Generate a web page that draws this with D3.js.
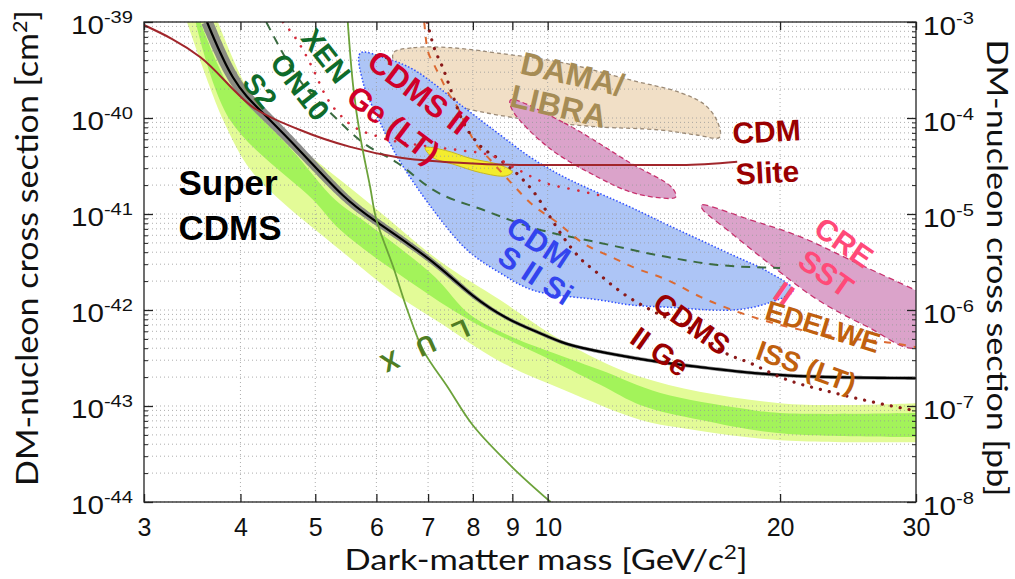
<!DOCTYPE html>
<html>
<head>
<meta charset="utf-8">
<script src="https://cdn.jsdelivr.net/npm/d3@7"></script>
<style>
  body { margin: 0; background: #fff; }
  svg { display: block; }
</style>
</head>
<body>
<div id="chart"></div>
<script>
// tick values
var massTicks = [3, 4, 5, 6, 7, 8, 9, 10, 20, 30];
var sigmaDecades = [1e-44, 1e-43, 1e-42, 1e-41, 1e-40, 1e-39];
var cmExponents = ["-44", "-43", "-42", "-41", "-40", "-39"];
var pbExponents = ["-8", "-7", "-6", "-5", "-4", "-3"];

// [mass GeV, cross section cm^2]
var superCdms = [[3.62,1.0e-39],[3.91,2.3e-40],[4.24,1.21e-40],[4.78,4.6e-41],[5.47,1.4e-41],[5.95,8.7e-42],[6.58,5.0e-42],[7.26,2.8e-42],[8.0,1.36e-42],[8.87,7.9e-43],[9.79,5.75e-43],[10.5,4.4e-43],[11.7,3.65e-43],[14.1,2.8e-43],[15.8,2.55e-43],[20,2.0e-43],[30,1.95e-43]];

var outerTop = [[3.74,1.0e-39],[4.31,9.5e-41],[5.0,3.65e-41],[5.98,1.15e-41],[7.26,3.2e-42],[8.68,1.27e-42],[10.4,4.9e-43],[13.2,2.0e-43],[20,1.07e-43],[30,1.07e-43]];
var outerBottom = [[3.41,1.0e-39],[3.80,9.5e-41],[4.12,2.9e-41],[4.50,1.4e-41],[5.39,4.2e-42],[6.25,1.6e-42],[7.26,7.3e-43],[8.61,3.0e-43],[10.5,1.47e-43],[13.2,7.15e-44],[14.9,5.9e-44],[20,4.4e-44],[30,4.2e-44]];
var innerTop = [[3.55,1.0e-39],[3.85,2.3e-40],[4.15,1.21e-40],[4.67,4.6e-41],[5.31,1.4e-41],[5.8,8.3e-42],[6.44,4.4e-42],[7.15,2.2e-42],[7.94,8.9e-43],[8.87,5.5e-43],[9.79,4.0e-43],[11.7,2.37e-43],[14.0,1.37e-43],[17.8,9.5e-44],[20,8.45e-44],[30,8.45e-44]];
var innerBottom = [[3.50,1.0e-39],[3.88,9.5e-41],[4.97,1.4e-41],[5.39,6.8e-42],[6.58,2.05e-42],[8.0,7.5e-43],[9.79,3.4e-43],[11.7,1.66e-43],[13.2,1.02e-43],[15.8,7.15e-44],[20,5.2e-44],[30,4.75e-44]];

var cdmsLite = [[3.0,9.3e-40],[3.55,4.3e-40],[4.15,1.3e-40],[4.78,7.5e-41],[5.55,5.0e-41],[6.39,3.9e-41],[7.78,3.4e-41],[9.5,3.24e-41],[14.9,3.24e-41],[17.6,3.5e-41]];
var xenon10 = [[4.32,1.0e-39],[4.74,2.67e-40],[5.27,1.07e-40],[5.77,5.5e-41],[6.39,3.4e-41],[7.11,1.78e-41],[8.26,1.1e-41],[9.59,7.15e-42],[11.7,5.0e-42],[14.3,3.56e-42],[16.6,2.95e-42],[20,2.74e-42]];
var lux = [[5.50,1.2e-39],[5.6,2.1e-40],[5.72,6.3e-41],[5.89,1.9e-41],[6.0,8.7e-42],[6.31,2.8e-42],[6.58,1.0e-42],[6.9,3.8e-43],[7.42,1.58e-43],[8.0,6.3e-44],[9.0,2.3e-44],[10.09,1.0e-44]];
var cdmsGe = [[6.98,1.0e-39],[7.11,5.75e-40],[7.33,3.2e-40],[7.53,1.74e-40],[7.75,9.5e-41],[8.11,5.5e-41],[8.68,3.65e-41],[9.22,2.43e-41],[9.7,1.5e-41],[10.0,1.02e-41],[10.5,5.6e-42],[11.0,3.5e-42],[11.6,2.43e-42],[12.5,1.5e-42],[13.6,1.0e-42],[15.8,5.5e-43],[16.9,3.65e-43],[18.3,2.8e-43],[20,2.0e-43],[23.5,1.37e-43],[26.8,1.07e-43],[30,8.9e-44]];
var cdmsGeLT = [[4.54,1.0e-39],[4.78,5.75e-40],[4.97,3.2e-40],[5.15,1.74e-40],[5.47,9.5e-41],[6.07,6.3e-41],[6.84,5.2e-41],[7.71,4.6e-41],[8.43,4.1e-41],[9.08,3.0e-41],[9.94,2.1e-41],[10.87,1.78e-41],[11.95,1.5e-41]];
var edelweiss = [[6.92,1.0e-39],[6.98,5.4e-40],[7.11,3.74e-40],[7.26,2.67e-40],[7.42,1.87e-40],[7.64,1.3e-40],[7.83,8.5e-41],[8.06,5.5e-41],[8.43,3.65e-41],[8.95,2.15e-41],[9.5,1.3e-41],[10.3,8.1e-42],[11.1,5.0e-42],[12.1,3.56e-42],[12.9,2.8e-42],[14.3,2.05e-42],[15.8,1.36e-42],[17.8,9.3e-43],[20,7.0e-43],[24.0,5.2e-43],[28.1,4.5e-43],[30,4.1e-43]];

// closed regions
var cdmsSi = [[5.72,4.75e-40],[6.16,4.2e-40],[6.70,3.2e-40],[7.78,1.3e-40],[8.61,7.0e-41],[9.5,3.9e-41],[10.5,2.43e-41],[12.8,1.18e-41],[14.3,7.7e-42],[17.4,3.7e-42],[19.3,2.5e-42],[20.8,1.6e-42],[19.3,1.18e-42],[17.4,1.0e-42],[14.3,1.07e-42],[12.8,1.13e-42],[11.7,1.27e-42],[9.59,1.6e-42],[8.68,2.43e-42],[7.87,4.2e-42],[7.11,1.1e-41],[6.39,3.9e-41],[6.07,8.9e-41],[5.77,2.3e-40]];
var cdmsSiBest = [[6.94,4.9e-41],[7.37,4.6e-41],[7.94,3.8e-41],[8.68,3.24e-41],[9.0,2.74e-41],[8.82,2.49e-41],[8.18,2.7e-41],[7.6,3.24e-41],[7.09,3.9e-41]];
var dama = [[6.31,4.75e-40],[6.70,5.4e-40],[7.48,5.4e-40],[8.61,4.75e-40],[10.5,3.74e-40],[12.8,2.49e-40],[14.9,1.82e-40],[16.0,1.36e-40],[16.6,9.1e-41],[16.7,6.3e-41],[15.6,6.65e-41],[14.0,7.5e-41],[11.6,8.1e-41],[9.5,9.5e-41],[7.78,1.27e-40],[7.05,1.62e-40],[6.44,2.8e-40]];
var cogent = [[8.95,1.54e-40],[10.5,8.9e-41],[12.8,3.4e-41],[14.5,1.87e-41],[14.65,1.5e-41],[14.0,1.47e-41],[12.8,1.7e-41],[11.6,2.43e-41],[10.0,5.0e-41],[9.0,1.21e-40]];
var cresst = [[15.8,1.24e-41],[18.3,8.7e-42],[21.3,5.75e-42],[24.7,3.3e-42],[30,1.6e-42],[34,1.0e-42],[30,4.0e-43],[26.0,6.65e-43],[22.4,1.27e-42],[19.3,3.1e-42],[17.1,6.8e-42],[15.9,1.1e-41]];

var W = 1015, H = 579;
var plot = { left: 144, right: 916, top: 22, bottom: 502 };

var svg = d3.select("#chart").append("svg")
    .attr("width", W)
    .attr("height", H)
    .style("font-family", "'Liberation Sans', Arial, sans-serif");

var x = d3.scaleLog().domain([3, 30]).range([plot.left, plot.right]);
var y = d3.scaleLog().domain([1e-44, 1e-39]).range([plot.bottom, plot.top]);
var yPb = d3.scaleLog().domain([1e-8, 1e-3]).range([plot.bottom, plot.top]);

svg.append("clipPath").attr("id", "clip")
  .append("rect")
    .attr("x", plot.left).attr("y", plot.top)
    .attr("width", plot.right - plot.left).attr("height", plot.bottom - plot.top);

var g = svg.append("g").attr("clip-path", "url(#clip)");

function mk(curve) {
  return d3.line().x(function(d) { return x(d[0]); }).y(function(d) { return y(d[1]); }).curve(curve);
}
var smooth = mk(d3.curveMonotoneX);
var basis = mk(d3.curveBasis);
var blob = mk(d3.curveCatmullRomClosed.alpha(0.5));
var band = mk(d3.curveCatmullRom.alpha(0.5));

function bandPath(top, bottom) {
  return band(top) + "L" + band(bottom.slice().reverse()).slice(1) + "Z";
}

// sensitivity bands
g.append("path").attr("d", bandPath(outerTop, outerBottom)).attr("fill", "#e3fb97");
g.append("path").attr("d", bandPath(innerTop, innerBottom)).attr("fill", "#a3f35a");

// allowed regions
g.append("path").attr("d", blob(dama))
    .attr("fill", "#f1dfc6").attr("stroke", "#9b8a76").attr("stroke-width", 1.3).attr("stroke-dasharray", "4,3");
g.append("path").attr("d", blob(cogent))
    .attr("fill", "#dba3ca").attr("stroke", "#c8326e").attr("stroke-width", 1.3).attr("stroke-dasharray", "5,3");
g.append("path").attr("d", blob(cresst))
    .attr("fill", "#dba3ca").attr("stroke", "#c8326e").attr("stroke-width", 1.3).attr("stroke-dasharray", "6,4");
g.append("path").attr("d", blob(cdmsSi))
    .attr("fill", "#adc5f6").attr("stroke", "#3050ff").attr("stroke-width", 1.5).attr("stroke-dasharray", "1.5,2");
g.append("path").attr("d", blob(cdmsSiBest))
    .attr("fill", "#f3ec2e").attr("stroke", "#c9b81e").attr("stroke-width", 1);

// grid on top of the fills
var grid = svg.append("g").attr("stroke", "#9a9a9a").attr("stroke-width", 1)
    .attr("stroke-dasharray", "1,3").attr("opacity", 0.8);
massTicks.slice(1, -1).forEach(function(m) {
  grid.append("line").attr("x1", x(m)).attr("x2", x(m)).attr("y1", plot.top).attr("y2", plot.bottom);
});
var minorSigma = [];
sigmaDecades.slice(0, -1).forEach(function(d) {
  for (var k = 1; k < 10; k++) minorSigma.push(d * k);
});
minorSigma.push(1e-39);
minorSigma.forEach(function(s) {
  grid.append("line").attr("x1", plot.left).attr("x2", plot.right).attr("y1", y(s)).attr("y2", y(s));
});

// SuperCDMS limit, with a grey uncertainty ribbon that narrows along the curve
var curves = svg.append("g").attr("clip-path", "url(#clip)");
var blackLine = curves.append("path").attr("d", basis(superCdms))
    .attr("fill", "none").attr("stroke", "#000").attr("stroke-width", 2.2);
var node = blackLine.node(), total = node.getTotalLength();
var sideA = [], sideB = [];
for (var s = 0; s <= total; s += 2) {
  var p = node.getPointAtLength(s),
      p1 = node.getPointAtLength(Math.max(0, s - 1)),
      p2 = node.getPointAtLength(Math.min(total, s + 1));
  var dx = p2.x - p1.x, dy = p2.y - p1.y, n = Math.hypot(dx, dy) || 1;
  var w = Math.max(1.8, 6 - 4.2 * (p.x - 200) / 300);
  sideA.push([p.x - dy / n * w, p.y + dx / n * w]);
  sideB.push([p.x + dy / n * w, p.y - dx / n * w]);
}
curves.insert("path", ":first-child")
    .attr("d", d3.line()(sideA.concat(sideB.reverse())) + "Z")
    .attr("fill", "#808080").attr("opacity", 0.9);

// other experiments
curves.append("path").attr("d", smooth(xenon10))
    .attr("fill", "none").attr("stroke", "#3b6b41").attr("stroke-width", 2).attr("stroke-dasharray", "9,7");
curves.append("path").attr("d", smooth(edelweiss))
    .attr("fill", "none").attr("stroke", "#dc6a32").attr("stroke-width", 2).attr("stroke-dasharray", "7,8");
curves.append("path").attr("d", smooth(cdmsGe))
    .attr("fill", "none").attr("stroke", "#8b1a1a").attr("stroke-width", 3.2)
    .attr("stroke-linecap", "round").attr("stroke-dasharray", "0.1,9");
curves.append("path").attr("d", smooth(cdmsGeLT))
    .attr("fill", "none").attr("stroke", "#d62a3a").attr("stroke-width", 2.6)
    .attr("stroke-linecap", "round").attr("stroke-dasharray", "0.1,10");
curves.append("path").attr("d", smooth(cdmsLite))
    .attr("fill", "none").attr("stroke", "#a1262b").attr("stroke-width", 2);
curves.append("path").attr("d", mk(d3.curveCatmullRom)(lux))
    .attr("fill", "none").attr("stroke", "#6ca23a").attr("stroke-width", 1.8);

// frame and ticks
svg.append("rect")
    .attr("x", plot.left).attr("y", plot.top)
    .attr("width", plot.right - plot.left).attr("height", plot.bottom - plot.top)
    .attr("fill", "none").attr("stroke", "#222").attr("stroke-width", 1.3);

var axisFont = "'Liberation Sans', Arial, sans-serif";

var xAxis = svg.append("g").attr("transform", "translate(0," + plot.bottom + ")")
    .call(d3.axisBottom(x).tickValues(massTicks).tickSize(-8).tickSizeOuter(0).tickPadding(16)
      .tickFormat(d3.format("d")));
xAxis.select(".domain").remove();
xAxis.selectAll("text").attr("font-size", 25).attr("fill", "#111").attr("font-family", axisFont);
xAxis.selectAll("line").attr("stroke", "#222").attr("stroke-width", 1.3);

var xTop = svg.append("g").attr("transform", "translate(0," + plot.top + ")")
    .call(d3.axisTop(x).tickValues(massTicks).tickSize(-8).tickSizeOuter(0).tickFormat(""));
xTop.select(".domain").remove();
xTop.selectAll("line").attr("stroke", "#222").attr("stroke-width", 1.3);

[[d3.axisLeft, plot.left], [d3.axisRight, plot.right]].forEach(function(a) {
  var major = svg.append("g").attr("transform", "translate(" + a[1] + ",0)")
      .call(a[0](y).tickValues(sigmaDecades).tickSize(-9).tickSizeOuter(0).tickFormat(""));
  major.select(".domain").remove();
  major.selectAll("line").attr("stroke", "#222").attr("stroke-width", 1.3);
  var minor = svg.append("g").attr("transform", "translate(" + a[1] + ",0)")
      .call(a[0](y).tickValues(minorSigma.filter(function(s, i) { return i % 9 !== 0; })).tickSize(-4).tickSizeOuter(0).tickFormat(""));
  minor.select(".domain").remove();
  minor.selectAll("line").attr("stroke", "#222").attr("stroke-width", 1);
});

// y tick labels with superscripts
sigmaDecades.forEach(function(d, i) {
  var t = svg.append("text")
      .attr("x", 71).attr("y", y(d) + 12)
      .attr("font-size", 25).attr("fill", "#111").attr("font-family", axisFont)
      .attr("textLength", 62).attr("lengthAdjust", "spacingAndGlyphs");
  t.append("tspan").text("10");
  t.append("tspan").attr("dy", -11).attr("font-size", 17).text(cmExponents[i]);
});
sigmaDecades.forEach(function(d, i) {
  var t = svg.append("text")
      .attr("x", 923).attr("y", yPb(d * 1e36) + 13)
      .attr("font-size", 25).attr("fill", "#111").attr("font-family", axisFont)
      .attr("textLength", 51).attr("lengthAdjust", "spacingAndGlyphs");
  t.append("tspan").text("10");
  t.append("tspan").attr("dy", -11).attr("font-size", 17).text(pbExponents[i]);
});

// axis titles
var titleFont = "Lato, 'Open Sans', sans-serif";
var lt = svg.append("text")
    .attr("transform", "translate(38,248) rotate(-90)")
    .attr("text-anchor", "middle").attr("font-size", 30).attr("font-family", titleFont).attr("fill", "#111")
    .attr("textLength", 476).attr("lengthAdjust", "spacingAndGlyphs");
lt.append("tspan").text("DM-nucleon cross section [cm");
lt.append("tspan").attr("dy", -11).attr("font-size", 19).text("2");
lt.append("tspan").attr("dy", 11).text("]");

svg.append("text")
    .attr("transform", "translate(987,268) rotate(90)")
    .attr("text-anchor", "middle").attr("font-size", 28).attr("font-family", titleFont).attr("fill", "#111")
    .attr("textLength", 457).attr("lengthAdjust", "spacingAndGlyphs")
    .text("DM-nucleon cross section [pb]");

var bt = svg.append("text")
    .attr("x", 546).attr("y", 570)
    .attr("text-anchor", "middle").attr("font-size", 29).attr("font-family", titleFont).attr("fill", "#111")
    .attr("textLength", 403).attr("lengthAdjust", "spacingAndGlyphs");
bt.append("tspan").text("Dark-matter mass [GeV/");
bt.append("tspan").attr("font-style", "italic").text("c");
bt.append("tspan").attr("dy", -11).attr("font-size", 19).text("2");
bt.append("tspan").attr("dy", 11).text("]");

// annotations
var labels = [
  { text: "Super", x: 228, y: 195, rot: 0, color: "#000", size: 35 },
  { text: "CDMS", x: 230, y: 240, rot: 0, color: "#000", size: 35 },
  { text: "XEN", x: 318, y: 62, rot: 52, color: "#0f6b2a", size: 29 },
  { text: "ON10", x: 292, y: 93, rot: 52, color: "#0f6b2a", size: 29 },
  { text: "S2", x: 252, y: 97, rot: 52, color: "#0f6b2a", size: 29 },
  { text: "CDMS II", x: 412, y: 101, rot: 37, color: "#d0002a", size: 31 },
  { text: "Ge (LT)", x: 387, y: 133, rot: 37, color: "#d0002a", size: 31 },
  { text: "DAMA/", x: 570, y: 85, rot: 13, color: "#a68c55", size: 32 },
  { text: "LIBRA", x: 556, y: 117, rot: 13, color: "#a68c55", size: 32 },
  { text: "CDM", x: 767, y: 142, rot: -3, color: "#9a0000", size: 30 },
  { text: "Slite", x: 768, y: 183, rot: -3, color: "#9a0000", size: 30 },
  { text: "CDM", x: 533, y: 251, rot: 33, color: "#3344ee", size: 30 },
  { text: "S II Si", x: 530, y: 284, rot: 33, color: "#3344ee", size: 30 },
  { text: "CRE", x: 838, y: 251, rot: 35, color: "#ff4a78", size: 30 },
  { text: "SST", x: 820, y: 282, rot: 35, color: "#ff4a78", size: 30 },
  { text: "II", x: 778, y: 302, rot: 35, color: "#ff4a78", size: 30 },
  { text: "CDMS", x: 686, y: 332, rot: 35, color: "#9a0000", size: 29 },
  { text: "II Ge", x: 654, y: 360, rot: 35, color: "#9a0000", size: 29 },
  { text: "EDELWE", x: 820, y: 336, rot: 17, color: "#c0600e", size: 28 },
  { text: "ISS (LT)", x: 803, y: 376, rot: 20, color: "#c0600e", size: 28 },
  { text: "LUX", x: 412, y: 342, rot: 156, color: "#4f7d23", size: 26, spacing: 21 }
];

svg.append("g").selectAll("text")
  .data(labels)
  .enter().append("text")
    .attr("transform", function(d) { return "translate(" + d.x + "," + d.y + ") rotate(" + d.rot + ")"; })
    .attr("text-anchor", "middle")
    .attr("font-weight", "bold")
    .attr("font-size", function(d) { return d.size; })
    .attr("letter-spacing", function(d) { return d.spacing || 0; })
    .attr("fill", function(d) { return d.color; })
    .text(function(d) { return d.text; });
</script>
</body>
</html>
